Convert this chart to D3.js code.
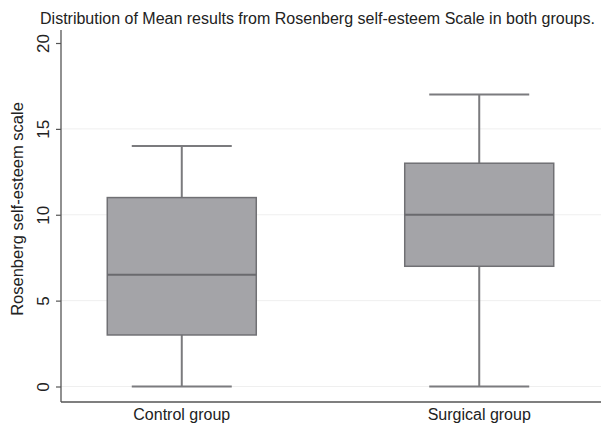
<!DOCTYPE html>
<html>
<head>
<meta charset="utf-8">
<script src="https://cdn.jsdelivr.net/npm/d3@7"></script>
<style>
  body { margin: 0; background: #fff; }
  text { font-family: "Liberation Sans", Arial, sans-serif; fill: #222; }
</style>
</head>
<body>
<div id="chart"></div>
<script>
// Data
const groups = ["Control group", "Surgical group"];
const mins = [0, 0];
const q1s = [3, 7];
const medians = [6.5, 10];
const q3s = [11, 13];
const maxs = [14, 17];
const yTicks = [0, 5, 10, 15, 20];

const W = 601, H = 423;
const margin = { top: 30, right: 1, bottom: 21, left: 61 };

const svg = d3.select("#chart").append("svg")
    .attr("width", W)
    .attr("height", H);

const x = d3.scalePoint()
    .domain(groups)
    .range([margin.left, W - margin.right])
    .padding(0.406);

const y = d3.scaleLinear()
    .domain([0, 20])
    .range([386.5, 43]);

// gridlines
svg.append("g")
    .selectAll("line")
    .data(yTicks.filter(d => d < 20))
    .enter().append("line")
    .attr("x1", margin.left)
    .attr("x2", W)
    .attr("y1", d => y(d))
    .attr("y2", d => y(d))
    .attr("stroke", "#efefef")
    .attr("stroke-width", 1);

// y axis
const yAxis = d3.axisLeft(y)
    .tickValues(yTicks)
    .tickSize(5)
    .tickFormat(d3.format("d"));

const gy = svg.append("g")
    .attr("transform", "translate(" + margin.left + ",0)")
    .call(yAxis);
gy.select(".domain").remove();
gy.selectAll(".tick line").attr("stroke", "#555").attr("stroke-width", 1.2);
gy.selectAll(".tick text")
    .attr("x", null)
    .attr("dy", null)
    .attr("transform", "translate(-12,0) rotate(-90)")
    .attr("text-anchor", "middle")
    .attr("font-size", 17)
    .style("fill", "#222");

// axis lines
svg.append("line")
    .attr("x1", margin.left).attr("x2", margin.left)
    .attr("y1", margin.top).attr("y2", H - margin.bottom)
    .attr("stroke", "#555").attr("stroke-width", 1.3);
svg.append("line")
    .attr("x1", margin.left).attr("x2", W)
    .attr("y1", H - margin.bottom).attr("y2", H - margin.bottom)
    .attr("stroke", "#555").attr("stroke-width", 1.3);

// boxes
const boxW = 149, capW = 100;
const boxes = svg.append("g").selectAll("g")
    .data(groups)
    .enter().append("g");

boxes.append("line")
    .attr("x1", d => x(d)).attr("x2", d => x(d))
    .attr("y1", (d, i) => y(maxs[i])).attr("y2", (d, i) => y(mins[i]))
    .attr("stroke", "#7b7b7e").attr("stroke-width", 2);

boxes.append("line")
    .attr("x1", d => x(d) - capW / 2).attr("x2", d => x(d) + capW / 2)
    .attr("y1", (d, i) => y(maxs[i])).attr("y2", (d, i) => y(maxs[i]))
    .attr("stroke", "#7b7b7e").attr("stroke-width", 2);

boxes.append("line")
    .attr("x1", d => x(d) - capW / 2).attr("x2", d => x(d) + capW / 2)
    .attr("y1", (d, i) => y(mins[i])).attr("y2", (d, i) => y(mins[i]))
    .attr("stroke", "#7b7b7e").attr("stroke-width", 2);

boxes.append("rect")
    .attr("x", d => x(d) - boxW / 2)
    .attr("width", boxW)
    .attr("y", (d, i) => y(q3s[i]))
    .attr("height", (d, i) => y(q1s[i]) - y(q3s[i]))
    .attr("fill", "#a4a4a8")
    .attr("stroke", "#707074")
    .attr("stroke-width", 1.5);

boxes.append("line")
    .attr("x1", d => x(d) - boxW / 2).attr("x2", d => x(d) + boxW / 2)
    .attr("y1", (d, i) => y(medians[i])).attr("y2", (d, i) => y(medians[i]))
    .attr("stroke", "#6a6a6e").attr("stroke-width", 2);

// x labels
svg.append("g").selectAll("text")
    .data(groups)
    .enter().append("text")
    .attr("x", d => x(d))
    .attr("y", 420)
    .attr("text-anchor", "middle")
    .attr("font-size", 16)
    .text(d => d);

// y title
svg.append("text")
    .attr("transform", "translate(23,209) rotate(-90)")
    .attr("text-anchor", "middle")
    .attr("font-size", 16.5)
    .text("Rosenberg self-esteem scale");

// chart title
svg.append("text")
    .attr("x", 317.5)
    .attr("y", 23.5)
    .attr("text-anchor", "middle")
    .attr("font-size", 16)
    .text("Distribution of Mean results from Rosenberg self-esteem Scale in both groups.");
</script>
</body>
</html>
